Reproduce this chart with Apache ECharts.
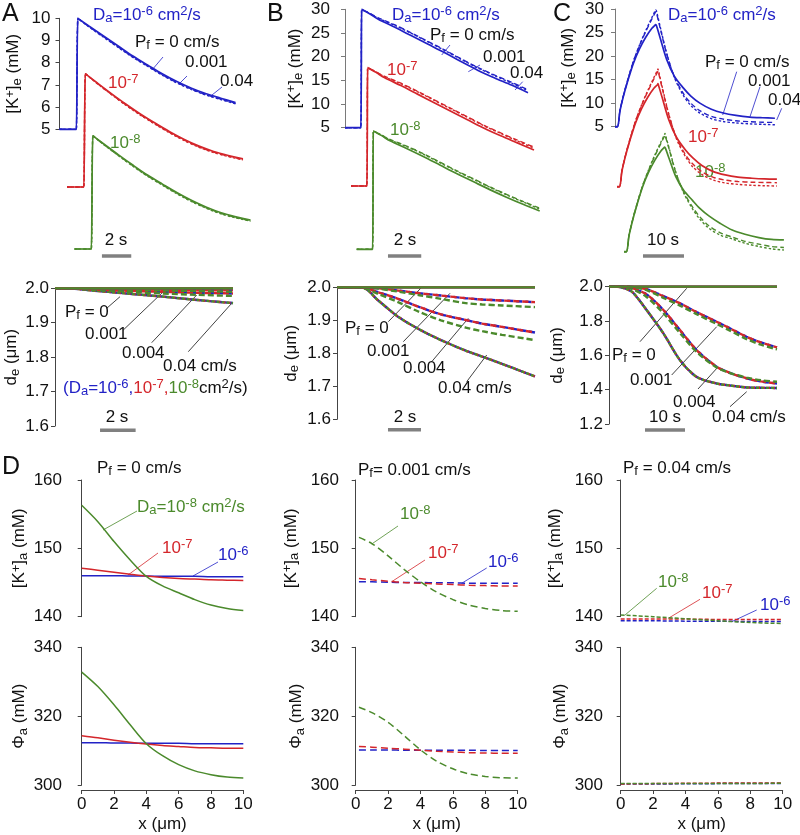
<!DOCTYPE html>
<html lang="en">
<head>
<meta charset="UTF-8">
<title>K+ clearance panels</title>
<script src="https://cdn.jsdelivr.net/npm/echarts@6/dist/echarts.min.js"></script>
<style>
html,body{margin:0;padding:0;background:#fff}
#chartBox{width:800px;height:835px}
</style>
</head>
<body>
<div id="chartBox"></div>
<script>
// ---------- row 1: [K+]e transients (Pf = 0 / 0.001 / 0.04 cm/s) ----------
const tA = [0, 1.1, 1.15, 1.25, 1.35, 2, 3, 4, 5, 6, 7, 8, 9, 10, 11, 12];
const kA_b0 = [5, 5, 5, 10.0, 9.95, 9.65, 9.2, 8.75, 8.3, 7.9, 7.5, 7.15, 6.85, 6.6, 6.4, 6.2];
const kA_b1 = [5, 5, 5, 10.0, 9.95, 9.63, 9.17, 8.71, 8.26, 7.86, 7.46, 7.11, 6.81, 6.56, 6.36, 6.17];
const kA_b4 = [5, 5, 5, 10.0, 9.95, 9.62, 9.15, 8.69, 8.24, 7.84, 7.44, 7.09, 6.79, 6.54, 6.34, 6.15];
const kA_r0 = [5, 5, 5, 10.1, 10.05, 9.72, 9.22, 8.74, 8.29, 7.88, 7.49, 7.14, 6.84, 6.6, 6.42, 6.27];
const kA_r1 = [5, 5, 5, 10.1, 10.05, 9.7, 9.19, 8.71, 8.26, 7.85, 7.46, 7.11, 6.81, 6.57, 6.39, 6.24];
const kA_r4 = [5, 5, 5, 10.1, 10.05, 9.69, 9.18, 8.69, 8.24, 7.83, 7.44, 7.09, 6.79, 6.55, 6.37, 6.22];
const kA_g0 = [5, 5, 5, 10.1, 10.05, 9.73, 9.24, 8.77, 8.32, 7.92, 7.53, 7.18, 6.88, 6.63, 6.45, 6.3];
const kA_g1 = [5, 5, 5, 10.1, 10.05, 9.71, 9.21, 8.74, 8.29, 7.89, 7.5, 7.15, 6.85, 6.6, 6.42, 6.27];
const kA_g4 = [5, 5, 5, 10.1, 10.05, 9.7, 9.2, 8.72, 8.27, 7.87, 7.48, 7.13, 6.83, 6.58, 6.4, 6.25];

const tB = [0, 0.95, 1.0, 1.05, 1.5, 2, 3, 4, 5, 6, 7, 8, 9, 10, 11];
const kB_b0 = [5, 5, 30, 29.9, 29.0, 27.9, 26.2, 24.4, 22.6, 20.8, 18.9, 17.1, 15.5, 14.0, 12.4];
const kB_b1 = [5, 5, 30, 29.9, 29.1, 28.2, 26.7, 25.0, 23.2, 21.4, 19.5, 17.7, 16.1, 14.6, 13.0];
const kB_b4 = [5, 5, 30, 29.9, 29.1, 28.1, 26.6, 24.9, 23.1, 21.3, 19.4, 17.6, 16.0, 14.4, 12.8];
const kB_r0 = [5, 5, 30, 29.9, 29.0, 27.9, 26.2, 24.4, 22.6, 20.8, 19.0, 17.2, 15.6, 14.1, 12.6];
const kB_r1 = [5, 5, 30, 29.9, 29.1, 28.2, 26.7, 25.0, 23.2, 21.4, 19.6, 17.8, 16.2, 14.7, 13.2];
const kB_r4 = [5, 5, 30, 29.9, 29.1, 28.1, 26.6, 24.9, 23.1, 21.3, 19.5, 17.7, 16.1, 14.5, 13.0];
const kB_g0 = [5, 5, 30, 29.9, 29.0, 27.9, 26.3, 24.6, 22.8, 21.0, 19.3, 17.6, 16.0, 14.5, 13.1];
const kB_g1 = [5, 5, 30, 29.9, 29.1, 28.2, 26.8, 25.2, 23.4, 21.6, 19.9, 18.2, 16.6, 15.1, 13.7];
const kB_g4 = [5, 5, 30, 29.9, 29.1, 28.1, 26.7, 25.1, 23.3, 21.5, 19.8, 18.1, 16.5, 15.0, 13.5];

const tC = [0, 0.6, 1.2, 2, 3, 4.5, 6, 7.5, 9, 9.9, 10, 10.1, 11, 12.6, 14.5, 16.7, 18.5, 20.7, 23.5, 26.4, 29.5, 32.9, 36, 39];
const kC_b0 = [5, 5, 8.3, 11.3, 14.4, 18.5, 21.6, 24.0, 25.9, 26.7, 26.8, 26.5, 23.9, 19.3, 15.7, 13.2, 11.5, 10.0, 8.7, 7.9, 7.4, 7.05, 6.9, 6.8];
const kC_b1 = [5, 5, 8.3, 11.4, 14.6, 18.9, 22.3, 25.2, 27.9, 29.4, 29.5, 29.2, 26.0, 20.5, 15.6, 12.0, 10.0, 8.4, 7.2, 6.6, 6.25, 6.05, 5.95, 5.9];
const kC_b4 = [5, 5, 8.3, 11.4, 14.6, 18.9, 22.4, 25.4, 28.2, 29.8, 29.9, 29.6, 26.3, 20.6, 15.4, 11.6, 9.5, 7.9, 6.7, 6.1, 5.8, 5.6, 5.5, 5.4];
const kC_r0 = [5, 5, 8.3, 11.3, 14.4, 18.5, 21.6, 24.0, 25.9, 26.7, 26.9, 26.6, 24.0, 19.3, 15.5, 12.8, 11.1, 9.5, 8.2, 7.5, 7.05, 6.8, 6.65, 6.6];
const kC_r1 = [5, 5, 8.3, 11.4, 14.6, 18.9, 22.3, 25.2, 27.9, 29.4, 29.6, 29.3, 26.0, 20.4, 15.4, 11.8, 9.8, 8.2, 7.0, 6.4, 6.1, 5.95, 5.9, 5.85];
const kC_r4 = [5, 5, 8.3, 11.4, 14.6, 18.9, 22.4, 25.4, 28.2, 29.8, 30.0, 29.7, 26.3, 20.5, 15.2, 11.4, 9.2, 7.6, 6.4, 5.8, 5.5, 5.3, 5.2, 5.15];
const kC_g0 = [5, 5, 8.3, 11.3, 14.5, 18.7, 21.9, 24.4, 26.4, 27.2, 27.3, 27.0, 24.8, 21.0, 18.1, 15.9, 14.2, 12.6, 11.0, 9.6, 8.7, 8.0, 7.6, 7.5];
const kC_g1 = [5, 5, 8.3, 11.4, 14.6, 18.9, 22.3, 25.3, 28.0, 29.6, 29.8, 29.5, 26.8, 21.9, 17.8, 14.5, 12.4, 10.5, 9.0, 8.1, 7.2, 6.6, 6.1, 5.9];
const kC_g4 = [5, 5, 8.3, 11.4, 14.6, 18.9, 22.4, 25.5, 28.3, 29.9, 30.1, 29.8, 27.0, 22.0, 17.6, 14.1, 11.9, 10.0, 8.5, 7.7, 6.8, 6.1, 5.6, 5.35];

// ---------- row 2: de (um); br = blue/red (overlapping), g = green ----------
const tDA = [0, 0.7, 2, 4, 6, 8, 10];
const dA_flat = [2, 2, 2, 2, 2, 2, 2];
const dA_br1 = [2, 2, 1.999, 1.997, 1.996, 1.995, 1.994];
const dA_g1 = [2, 2, 1.998, 1.996, 1.994, 1.992, 1.99];
const dA_br2 = [2, 2, 1.997, 1.993, 1.99, 1.987, 1.985];
const dA_g2 = [2, 2, 1.996, 1.99, 1.985, 1.981, 1.978];
const dA_all3 = [2, 2, 1.994, 1.985, 1.976, 1.966, 1.957];

const tDB = [0, 1.5, 2.5, 3.7, 5, 6.3, 7.8, 8.8, 10, 12];
const dB_flat = [2, 2, 2, 2, 2, 2, 2, 2, 2, 2];
const dB_br1 = [2, 2.0, 1.997, 1.99, 1.982, 1.975, 1.967, 1.963, 1.96, 1.955];
const dB_g1 = [2, 2.0, 1.996, 1.987, 1.976, 1.965, 1.952, 1.948, 1.945, 1.94];
const dB_br2 = [2, 1.999, 1.985, 1.965, 1.94, 1.918, 1.901, 1.89, 1.88, 1.863];
const dB_g2 = [2, 1.998, 1.98, 1.955, 1.925, 1.9, 1.878, 1.867, 1.856, 1.84];
const dB_all3 = [2, 2.0, 1.96, 1.911, 1.872, 1.84, 1.808, 1.79, 1.768, 1.73];

const tDC = [0, 2, 4, 6, 9.4, 13.6, 17.75, 21.9, 26.9, 30, 34.4, 38, 42];
const dC_flat = [2, 2, 2, 2, 2, 2, 2, 2, 2, 2, 2, 2, 2];
const dC_br1 = [2, 2, 2, 1.998, 1.985, 1.945, 1.903, 1.852, 1.796, 1.76, 1.708, 1.675, 1.646];
const dC_g1 = [2, 2, 2, 1.997, 1.98, 1.935, 1.89, 1.84, 1.783, 1.747, 1.695, 1.662, 1.635];
const dC_br2 = [2, 2, 1.998, 1.99, 1.955, 1.864, 1.747, 1.631, 1.534, 1.5, 1.466, 1.448, 1.436];
const dC_g2 = [2, 2, 1.997, 1.985, 1.94, 1.845, 1.73, 1.62, 1.53, 1.5, 1.47, 1.455, 1.446];
const dC_all3 = [2, 2, 1.99, 1.965, 1.864, 1.728, 1.572, 1.475, 1.436, 1.425, 1.413, 1.411, 1.41];

// ---------- row 3/4: [K+]a and Phi_a along x (um) ----------
const xD1 = [0, 1, 2, 3, 4, 5, 6, 7, 8, 9, 10];
const ka1_b = [146.0, 146.0, 146.0, 145.95, 145.95, 145.9, 145.9, 145.9, 145.85, 145.85, 145.85];
const ka1_r = [147.1, 146.8, 146.5, 146.2, 145.95, 145.75, 145.6, 145.5, 145.4, 145.35, 145.3];
const ka1_g = [156.3, 153.9, 151.0, 148.3, 145.9, 144.5, 143.5, 142.5, 141.7, 141.2, 140.9];
const ph1_b = [312.3, 312.3, 312.2, 312.2, 312.1, 312.1, 312.1, 312.0, 312.0, 312.0, 312.0];
const ph1_r = [314.3, 313.7, 313.0, 312.4, 311.9, 311.5, 311.2, 310.9, 310.8, 310.7, 310.7];
const ph1_g = [332.8, 328.6, 323.3, 317.5, 312.0, 308.5, 305.9, 304.1, 303.0, 302.3, 302.0];

const xD2 = [0.2, 1, 2, 3, 4, 5, 6, 7, 8, 9, 10];
const ka2_b = [145.1, 145.1, 145.05, 145.0, 145.0, 144.95, 144.95, 144.9, 144.9, 144.9, 144.9];
const ka2_r = [145.6, 145.4, 145.2, 145.0, 144.9, 144.8, 144.7, 144.6, 144.55, 144.5, 144.5];
const ka2_g = [151.6, 150.7, 148.9, 146.9, 145.1, 143.6, 142.5, 141.7, 141.2, 140.9, 140.8];
const ph2_b = [310.2, 310.2, 310.2, 310.1, 310.1, 310.1, 310.1, 310.1, 310.0, 310.0, 310.0];
const ph2_r = [311.2, 311.0, 310.7, 310.4, 310.1, 309.8, 309.6, 309.4, 309.3, 309.2, 309.2];
const ph2_g = [322.6, 321.0, 318.2, 314.3, 310.2, 306.9, 304.7, 303.2, 302.5, 302.1, 302.0];

const xD3 = [0, 2, 4, 6, 8, 10];
const ka3_b = [139.4, 139.4, 139.35, 139.35, 139.3, 139.3];
const ka3_r = [139.65, 139.65, 139.65, 139.6, 139.6, 139.6];
const ka3_g = [140.25, 140.0, 139.7, 139.4, 139.15, 139.0];
const ph3_b = [300.3, 300.3, 300.35, 300.4, 300.4, 300.45];
const ph3_r = [300.3, 300.4, 300.5, 300.55, 300.6, 300.6];
const ph3_g = [300.4, 300.4, 300.4, 300.45, 300.45, 300.5];

// ---------- styling ----------
const FONT = '"Liberation Sans", Arial, Helvetica, sans-serif';
const BLUE = '#2222c6', RED = '#d4262b', GREEN = '#4b8a2c', INK = '#111', AX = '#444', AX_LIGHT = '#7a7a7a', BAR = '#808080';
const TICK_FS = 17, TXT_FS = 17, SUB_FS = 13;

const grids = [], xAxes = [], yAxes = [], series = [], graphics = [];

function richFor(color) {
    return {
        sp: {fontSize: SUB_FS, fontFamily: FONT, color: color, fill: color, verticalAlign: 'top', lineHeight: 12},
        sb: {fontSize: SUB_FS, fontFamily: FONT, color: color, fill: color, verticalAlign: 'bottom', lineHeight: 12}
    };
}

function addGrid(g) {
    const i = grids.length;
    const axc = g.axColor || AX;
    grids.push({left: g.left, top: g.top, width: g.width, height: g.height});
    xAxes.push({
        gridIndex: i, type: 'value', min: g.x[0], max: g.x[1], show: !!g.xShow,
        interval: g.xInterval, offset: g.xOffset || 0,
        name: g.xName, nameLocation: 'middle', nameGap: 26,
        nameTextStyle: {fontSize: TXT_FS, fontFamily: FONT, color: INK},
        axisLine: {lineStyle: {color: axc, width: 1}},
        axisTick: {length: 4, lineStyle: {color: axc}},
        axisLabel: {fontSize: TICK_FS, fontFamily: FONT, color: INK, margin: 6},
        splitLine: {show: false}
    });
    yAxes.push({
        gridIndex: i, type: 'value', min: g.y[0], max: g.y[1], show: !!g.yShow,
        interval: g.yInterval, offset: g.yOffset || 0,
        name: g.yName, nameLocation: 'middle', nameRotate: 90, nameGap: g.gap,
        nameTextStyle: {fontSize: TXT_FS, fontFamily: FONT, color: INK, lineHeight: 20, rich: richFor(INK)},
        axisLine: {show: true, lineStyle: {color: axc, width: 1}},
        axisTick: {length: 4, lineStyle: {color: axc}},
        axisLabel: {fontSize: TICK_FS, fontFamily: FONT, color: INK, margin: 6,
            formatter: g.dec ? (v => v.toFixed(g.dec)) : null},
        splitLine: {show: false}
    });
    return i;
}

function trace(gi, xs, ys, color, dash, width, dashOffset) {
    series.push({
        type: 'line', xAxisIndex: gi, yAxisIndex: gi,
        data: xs.map((x, k) => [x, ys[k]]),
        symbol: 'none', smooth: 0.3, clip: false, silent: true, animation: false,
        lineStyle: {color: color, width: width || 1.6, type: dash || 'solid', dashOffset: dashOffset || 0}
    });
}

function scaleBar(gi, t0, len, y) {
    series.push({
        type: 'line', xAxisIndex: gi, yAxisIndex: gi,
        data: [[t0, y], [t0 + len, y]],
        symbol: 'none', clip: false, silent: true, animation: false,
        lineStyle: {color: BAR, width: 3.5, cap: 'butt'}
    });
}

function label(x, y, text, color, size, align) {
    const c = color || INK;
    graphics.push({
        type: 'text', x: x, y: y, silent: true,
        style: {
            text: text, fill: c, fontSize: size || TXT_FS, fontFamily: FONT, lineHeight: 20,
            align: align || 'left', verticalAlign: 'middle',
            textAlign: align || 'left', textVerticalAlign: 'middle',
            rich: richFor(c)
        }
    });
}

function lead(x1, y1, x2, y2, color) {
    graphics.push({type: 'line', silent: true, shape: {x1: x1, y1: y1, x2: x2, y2: y2},
        style: {stroke: color || INK, lineWidth: 0.8}});
}

const DASH = [5, 3], DOT = [2.5, 2];

// ---------- row 1 panels: each trace in its own offset grid, same scale ----------
const kName = '[K{sp|+}]{sb|e} (mM)';
const gA = [
    addGrid({left: 59.5, top: 18.3, width: 176, height: 111, x: [0, 12], y: [5, 10], yShow: true, yInterval: 1, yOffset: 3, yName: kName, gap: 33}),
    addGrid({left: 67, top: 76, width: 176, height: 111, x: [0, 12], y: [5, 10]}),
    addGrid({left: 74.5, top: 138, width: 176, height: 111, x: [0, 12], y: [5, 10]})
];
const gB = [
    addGrid({left: 345, top: 9.3, width: 183, height: 118.4, x: [0, 11], y: [5, 30], yShow: true, yInterval: 5, yOffset: 9, yName: kName, gap: 31, axColor: AX_LIGHT}),
    addGrid({left: 351, top: 67.6, width: 183, height: 118.4, x: [0, 11], y: [5, 30]}),
    addGrid({left: 356.7, top: 130.9, width: 183, height: 118.4, x: [0, 11], y: [5, 30]})
];
const gC = [
    addGrid({left: 615, top: 9, width: 164, height: 117.7, x: [0, 40], y: [5, 30], yShow: true, yInterval: 5, yOffset: 5, yName: kName, gap: 32, axColor: AX_LIGHT}),
    addGrid({left: 617, top: 69, width: 164, height: 117.7, x: [0, 40], y: [5, 30]}),
    addGrid({left: 624, top: 134, width: 164, height: 117.7, x: [0, 40], y: [5, 30]})
];

[[gA, tA, [[kA_b0, kA_b1, kA_b4], [kA_r0, kA_r1, kA_r4], [kA_g0, kA_g1, kA_g4]]],
 [gB, tB, [[kB_b0, kB_b1, kB_b4], [kB_r0, kB_r1, kB_r4], [kB_g0, kB_g1, kB_g4]]],
 [gC, tC, [[kC_b0, kC_b1, kC_b4], [kC_r0, kC_r1, kC_r4], [kC_g0, kC_g1, kC_g4]]]
].forEach(([g, t, sets]) => {
    const cols = [BLUE, RED, GREEN];
    sets.forEach((s, k) => {
        trace(g[k], t, s[2], cols[k], DOT, 1.4);
        trace(g[k], t, s[1], cols[k], DASH, 1.4);
        trace(g[k], t, s[0], cols[k], 'solid', 1.7);
    });
});
scaleBar(gA[2], 1.87, 2, 4.68);
scaleBar(gB[2], 1.88, 2, 3.59);
scaleBar(gC[2], 4.63, 10, 4.09);

// ---------- row 2: de ----------
const dName = 'd{sb|e} (\u03BCm)';
const gDA = addGrid({left: 55, top: 288.3, width: 178, height: 137.7, x: [0, 10], y: [1.6, 2.0], yShow: true, yInterval: 0.1, dec: 1, yName: dName, gap: 33});
const gDB = addGrid({left: 337, top: 287.3, width: 198, height: 132, x: [0, 12], y: [1.6, 2.0], yShow: true, yInterval: 0.1, dec: 1, yName: dName, gap: 36});
const gDC = addGrid({left: 609, top: 286.7, width: 168, height: 137.3, x: [0, 42], y: [1.2, 2.0], yShow: true, yInterval: 0.2, dec: 1, yName: dName, gap: 42});

[[gDA, tDA, dA_flat, dA_br1, dA_g1, dA_br2, dA_g2, dA_all3],
 [gDB, tDB, dB_flat, dB_br1, dB_g1, dB_br2, dB_g2, dB_all3],
 [gDC, tDC, dC_flat, dC_br1, dC_g1, dC_br2, dC_g2, dC_all3]
].forEach(([g, t, flat, br1, g1, br2, g2, all3]) => {
    const D = [6, 3], P = [3, 2];
    trace(g, t, all3, BLUE, P, 2.4);
    trace(g, t, all3, RED, P, 2.4, 2);
    trace(g, t, all3, GREEN, P, 2.4, 3);
    trace(g, t, br2, BLUE, D, 2.4);
    trace(g, t, br2, RED, D, 2.4, 3);
    trace(g, t, g2, GREEN, D, 2.4);
    trace(g, t, br1, BLUE, D, 2.4);
    trace(g, t, br1, RED, D, 2.4, 3);
    trace(g, t, g1, GREEN, D, 2.4);
    trace(g, t, flat, BLUE, 'solid', 2.2);
    trace(g, t, flat, RED, 'solid', 2.2);
    trace(g, t, flat, GREEN, 'solid', 2.2);
});
scaleBar(gDA, 2.53, 2, 1.588);
scaleBar(gDB, 3.09, 2, 1.568);
scaleBar(gDC, 9, 10, 1.165);

// ---------- rows 3/4: [K+]a and Phi_a ----------
const kaName = '[K{sp|+}]{sb|a} (mM)', phName = '\u03A6{sb|a} (mM)', xName = 'x (\u03BCm)';
const dPanels = [
    {left: 81.7, width: 161.6, off: 13.7, gk: 35, gp: 27, xs: xD1, ka: [ka1_b, ka1_r, ka1_g], ph: [ph1_b, ph1_r, ph1_g], dash: 'solid'},
    {left: 355.7, width: 162, off: 10.7, gk: 44, gp: 38, xs: xD2, ka: [ka2_b, ka2_r, ka2_g], ph: [ph2_b, ph2_r, ph2_g], dash: [7, 4]},
    {left: 620.7, width: 162, off: 11.7, gk: 44, gp: 37, xs: xD3, ka: [ka3_b, ka3_r, ka3_g], ph: [ph3_b, ph3_r, ph3_g], dash: [4, 2]}
];
dPanels.forEach(p => {
    const gk = addGrid({left: p.left, top: 480, width: p.width, height: 136.7, x: [0, 10], y: [140, 160],
        yShow: true, yInterval: 10, yOffset: p.off, yName: kaName, gap: p.gk});
    const gp = addGrid({left: p.left, top: 647.3, width: p.width, height: 137.7, x: [0, 10], y: [300, 340],
        yShow: true, yInterval: 20, yOffset: p.off, yName: phName, gap: p.gp,
        xShow: true, xInterval: 2, xOffset: 5, xName: xName});
    const cols = [BLUE, RED, GREEN];
    [0, 1, 2].forEach(k => {
        trace(gk, p.xs, p.ka[k], cols[k], p.dash, 1.5);
        trace(gp, p.xs, p.ph[k], cols[k], p.dash, 1.5);
    });
});

// ---------- annotations ----------
label(2, 14, 'A', INK, 25);
label(267, 14, 'B', INK, 25);
label(553, 14, 'C', INK, 25);
label(2, 467, 'D', INK, 25);

const daTxt = 'D{sb|a}=10{sp|-6} cm{sp|2}/s';
label(93, 15, daTxt, BLUE);
label(135, 42, 'P{sb|f} = 0 cm/s');
label(185, 62, '0.001');
label(220, 81, '0.04');
label(108, 83, '10{sp|-7}', RED);
label(110, 143, '10{sp|-8}', GREEN);
label(116, 240, '2 s', INK, TXT_FS, 'center');
lead(163, 57, 152, 70, BLUE); lead(187, 76, 180, 83, BLUE); lead(222, 87, 212, 95, BLUE);

label(392, 15, daTxt, BLUE);
label(430, 35, 'P{sb|f} = 0 cm/s');
label(483, 57, '0.001');
label(510, 73, '0.04');
label(387, 70, '10{sp|-7}', RED);
label(390, 130, '10{sp|-8}', GREEN);
label(405, 240, '2 s', INK, TXT_FS, 'center');
lead(450, 45, 441.7, 55, BLUE); lead(480, 65, 468.3, 71.7, BLUE); lead(522.7, 81.7, 515, 90, BLUE);

label(668, 15, daTxt, BLUE);
label(705, 62, 'P{sb|f} = 0 cm/s');
label(748, 81, '0.001');
label(768, 100, '0.04');
label(688, 137, '10{sp|-7}', RED);
label(695, 172, '10{sp|-8}', GREEN);
label(663, 240, '10 s', INK, TXT_FS, 'center');
lead(736.7, 71.7, 722.7, 115, BLUE); lead(760, 86.7, 750, 116.7, BLUE); lead(781.7, 108.3, 776.7, 120, BLUE);

label(65, 312, 'P{sb|f} = 0');
label(85, 334, '0.001');
label(122, 353, '0.004');
label(163, 366, '0.04 cm/s');
graphics.push({
    type: 'text', x: 63, y: 388, silent: true,
    style: {
        text: '{b|(D}{bs|a}{b|=10}{bp|-6}{b|,}{r|10}{rp|-7}{r|,}{g|10}{gp|-8}{k|cm}{kp|2}{k|/s)}',
        fontSize: TXT_FS, fontFamily: FONT, lineHeight: 20, align: 'left', verticalAlign: 'middle',
        textAlign: 'left', textVerticalAlign: 'middle',
        rich: {
            b: {fill: BLUE, fontSize: TXT_FS, fontFamily: FONT, lineHeight: 20},
            r: {fill: RED, fontSize: TXT_FS, fontFamily: FONT, lineHeight: 20},
            g: {fill: GREEN, fontSize: TXT_FS, fontFamily: FONT, lineHeight: 20},
            k: {fill: INK, fontSize: TXT_FS, fontFamily: FONT, lineHeight: 20},
            bs: {fill: BLUE, fontSize: SUB_FS, fontFamily: FONT, verticalAlign: 'bottom', lineHeight: 12},
            bp: {fill: BLUE, fontSize: SUB_FS, fontFamily: FONT, verticalAlign: 'top', lineHeight: 12},
            rp: {fill: RED, fontSize: SUB_FS, fontFamily: FONT, verticalAlign: 'top', lineHeight: 12},
            gp: {fill: GREEN, fontSize: SUB_FS, fontFamily: FONT, verticalAlign: 'top', lineHeight: 12},
            kp: {fill: INK, fontSize: SUB_FS, fontFamily: FONT, verticalAlign: 'top', lineHeight: 12}
        }
    }
});
label(117, 417, '2 s', INK, TXT_FS, 'center');
lead(106.7, 308.3, 120, 296.7); lead(123.3, 330, 163.3, 291.7); lead(151.7, 342.7, 196.7, 295); lead(188.3, 351.7, 231.7, 303.3);

label(345, 328, 'P{sb|f} = 0');
label(367, 351, '0.001');
label(403, 368, '0.004');
label(438, 388, '0.04 cm/s');
label(405, 417, '2 s', INK, TXT_FS, 'center');
lead(388.3, 321.7, 421.7, 287.3); lead(403.3, 341.7, 450, 293.3); lead(431.7, 361.7, 468.3, 318.3); lead(466.7, 381.7, 486.7, 355);

label(612, 355, 'P{sb|f} = 0');
label(630, 380, '0.001');
label(673, 402, '0.004');
label(712, 417, '0.04 cm/s');
label(665, 417, '10 s', INK, TXT_FS, 'center');
lead(640, 341.7, 686.7, 288.3); lead(671.7, 375, 716.7, 326.7); lead(698, 389, 718, 367); lead(730, 406.7, 746.7, 391.7);

label(97, 468, 'P{sb|f} = 0 cm/s');
label(137, 507, 'D{sb|a}=10{sp|-8} cm{sp|2}/s', GREEN);
lead(103, 530, 137, 511, GREEN);
label(162, 548, '10{sp|-7}', RED);
lead(158, 553, 128, 575, RED);
label(218, 555, '10{sp|-6}', BLUE);
lead(218, 562, 193, 576, BLUE);

label(358, 470, 'P{sb|f}= 0.001 cm/s');
label(400, 514, '10{sp|-8}', GREEN);
lead(371.7, 544, 398, 526, GREEN);
label(428, 553, '10{sp|-7}', RED);
lead(425, 560, 391.7, 581.7, RED);
label(488, 562, '10{sp|-6}', BLUE);
lead(486.7, 568, 461.7, 583.3, BLUE);

label(623, 468, 'P{sb|f} = 0.04 cm/s');
label(658, 582, '10{sp|-8}', GREEN);
lead(656.7, 588.3, 625, 615, GREEN);
label(702, 593, '10{sp|-7}', RED);
lead(700, 599.3, 668.3, 618.3, RED);
label(760, 605, '10{sp|-6}', BLUE);
lead(756.7, 610, 731.7, 621.7, BLUE);

const chartObj = echarts.init(document.getElementById('chartBox'), null, {renderer: 'canvas'});
chartObj.setOption({
    animation: false,
    backgroundColor: '#fff',
    textStyle: {fontFamily: FONT},
    grid: grids,
    xAxis: xAxes,
    yAxis: yAxes,
    series: series,
    graphic: {elements: graphics}
});
</script>
</body>
</html>
